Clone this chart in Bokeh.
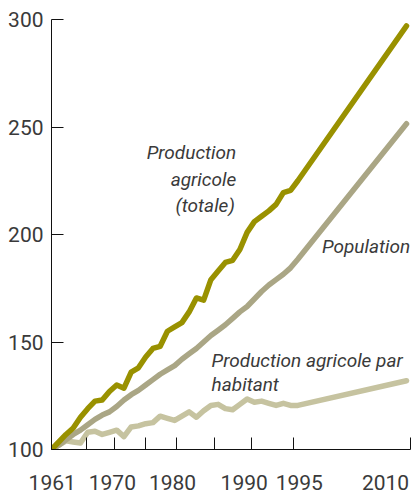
from bokeh.plotting import figure
from bokeh.models import FixedTicker, Label, Range1d, ColumnDataSource, LinearAxis
from bokeh.embed import file_html
from bokeh.resources import INLINE

# ---- data (index, 1961 = 100) ----
years = [1961, 1962, 1963, 1964, 1965, 1966, 1967, 1968, 1969, 1970,
         1971, 1972, 1973, 1974, 1975, 1976, 1977, 1978, 1979, 1980,
         1981, 1982, 1983, 1984, 1985, 1986, 1987, 1988, 1989, 1990,
         1991, 1992, 1993, 1994, 1995, 2010]
production_totale = [100, 103.5, 107, 110, 115, 119, 122.5, 123, 127, 130,
                     128.5, 136, 138, 143, 147, 148, 155, 157, 159, 164,
                     170.5, 169.5, 179, 183, 187, 188, 193, 201, 206, 208.5,
                     211, 214, 219.5, 220.5, 225, 297]
population = [100, 102, 104.5, 107, 109, 111.5, 114, 116, 117.5, 120,
              123, 125.5, 127.5, 130, 132.5, 135, 137, 139, 142, 144.5,
              147, 150, 153, 155.5, 158, 161, 164, 166.5, 170, 173.5,
              176.5, 179, 181.5, 184.5, 188.5, 251.5]
production_par_habitant = [100, 102, 104, 103.5, 103, 108, 108.5, 107, 108, 109,
                           106, 110.5, 111, 112, 112.5, 115.5, 114.5, 113.5, 115.5, 117.5,
                           115, 118, 120.5, 121, 119, 118.5, 121, 123.5, 122, 122.5,
                           121.5, 120.5, 121.5, 120.5, 120.5, 132]

y_ticks = [100, 150, 200, 250, 300]
x_tick_labels = ["1961", "1970", "1980", "1990", "1995", "2010"]

# ---- layout / style ----
x_tick_pos = [1961, 1965.83, 1969.7, 1973.97, 1978.25, 1983.5, 1988.61, 1994.4, 2010.55]
x_label_pos = [1961.1, 1969.4, 1977.7, 1987.6, 1995.2, 2007.1]
TEXT = "#3a3a3a"
FONT = "Roboto"
AXIS = "#111111"

src = ColumnDataSource(dict(year=years, tot=production_totale,
                            pop=population, hab=production_par_habitant))

p = figure(width=414, height=495,
           x_range=Range1d(1961, 2010.55), y_range=Range1d(100, 300),
           output_backend="svg", toolbar_location=None,
           min_border_left=51, min_border_right=4,
           min_border_top=19, min_border_bottom=46)
p.grid.visible = False
p.outline_line_color = None
p.background_fill_color = "white"
p.border_fill_color = "white"

p.line("year", "hab", source=src, line_color="#c6c3a0", line_width=5.5,
       line_join="round", line_cap="round")
p.line("year", "pop", source=src, line_color="#aaa685", line_width=5.5,
       line_join="round", line_cap="round")
p.line("year", "tot", source=src, line_color="#999100", line_width=5.5,
       line_join="round", line_cap="round")

# y axis
ya = p.yaxis[0]
ya.ticker = FixedTicker(ticks=y_ticks)
ya.axis_line_color = AXIS
ya.major_tick_line_color = AXIS
ya.major_tick_in = 12
ya.major_tick_out = 0
ya.minor_tick_line_color = None
ya.major_label_text_font = FONT
ya.major_label_text_font_size = "21px"
ya.major_label_text_color = TEXT
ya.major_label_standoff = 8

# x axis: tick marks only
xa = p.xaxis[0]
xa.ticker = FixedTicker(ticks=x_tick_pos)
xa.axis_line_color = AXIS
xa.major_tick_line_color = AXIS
xa.major_tick_in = 12
xa.major_tick_out = 0
xa.minor_tick_line_color = None
xa.major_label_text_font_size = "0px"
xa.major_label_standoff = 0
xa.major_label_overrides = {t: "" for t in x_tick_pos}

# x axis: labels only
xl = LinearAxis(ticker=FixedTicker(ticks=x_label_pos),
                major_label_overrides={t: l for t, l in zip(x_label_pos, x_tick_labels)})
xl.axis_line_color = None
xl.major_tick_line_color = None
xl.minor_tick_line_color = None
xl.major_tick_in = 0
xl.major_tick_out = 0
xl.major_label_text_font = FONT
xl.major_label_text_font_size = "21px"
xl.major_label_text_color = TEXT
xl.major_label_standoff = 25
p.add_layout(xl, "below")

def note(x, y, txt, align):
    p.add_layout(Label(x=x, y=y, text=txt, text_align=align,
                       text_baseline="alphabetic", text_font=FONT,
                       text_font_style="italic", text_font_size="19px",
                       text_color=TEXT))

note(1986.5, 238.0, "Production", "right")
note(1986.5, 225.6, "agricole", "right")
note(1986.3, 213.6, "(totale)", "right")
note(2010.5, 194.3, "Population", "right")
note(1983.1, 141.3, "Production agricole par", "left")
note(1983.1, 130.2, "habitant", "left")

open("out.html", "w").write(file_html(p, INLINE))
